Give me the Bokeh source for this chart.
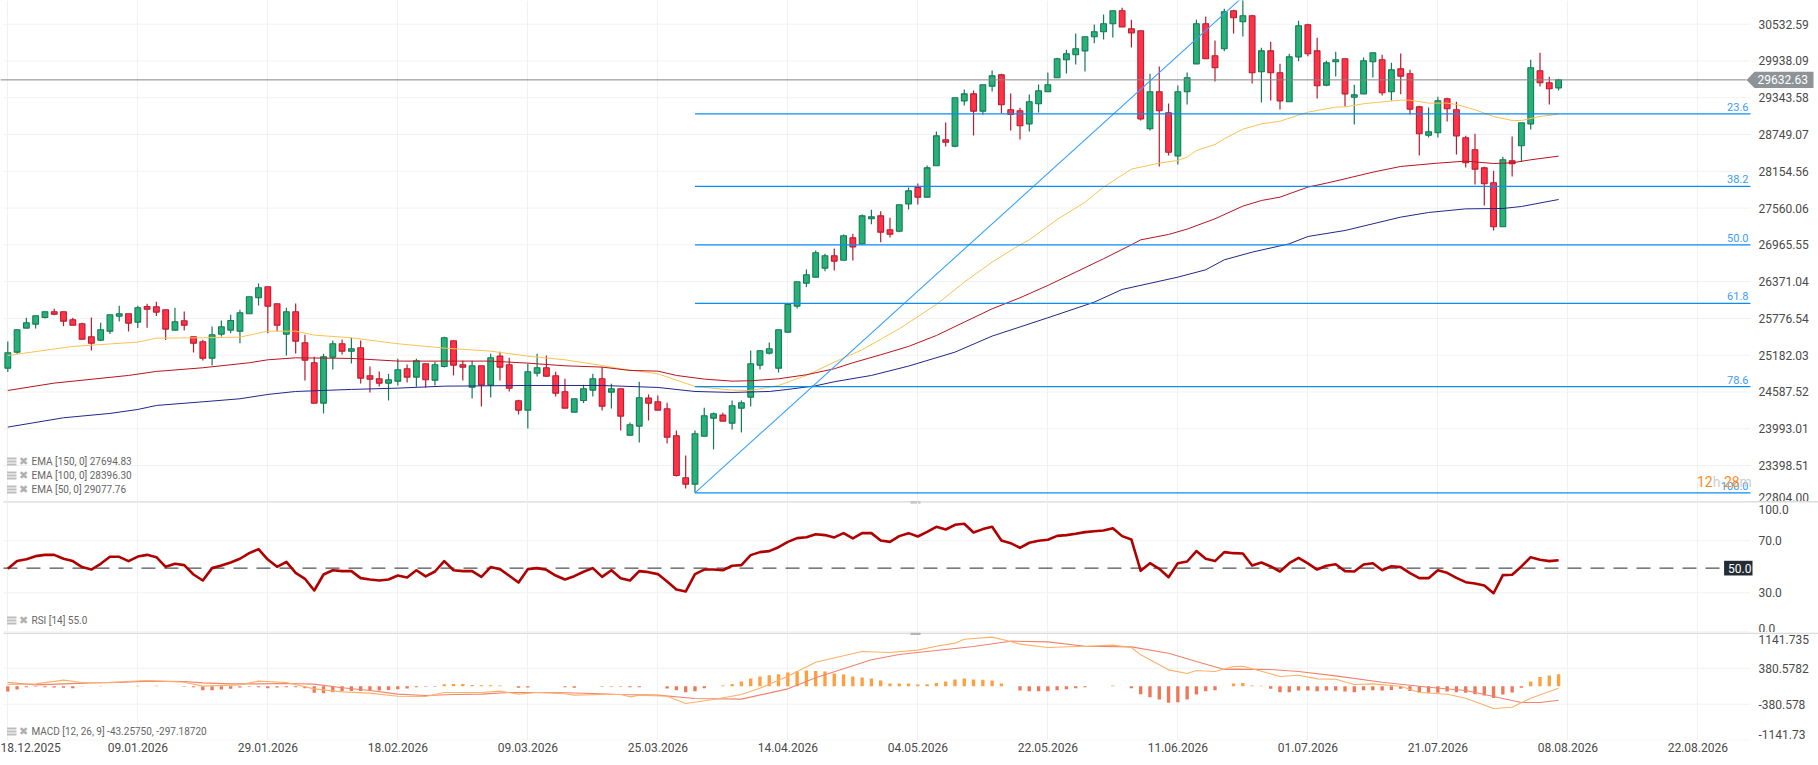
from bokeh.embed import file_html
from bokeh.layouts import column
from bokeh.models import (BoxAnnotation, FixedTicker, Label, LinearAxis, PolyAnnotation, Range1d)
from bokeh.plotting import figure
from bokeh.resources import INLINE
from bokeh.core.properties import value

OPEN = [24973,25232,25620,25685,25792,25884,25884,25755,25690,25480,25426,25571,25814,25852,25717,25970,25965,25916,25588,25739,
25480,25399,25135,25523,25588,25571,25852,26110,26288,26013,25523,25884,25383,25060,24408,25151,25367,25248,25302,24849,
24801,24731,24763,24963,24828,25043,24779,25000,25415,25027,24666,25011,24699,25167,25027,24445,24295,24893,24979,24849,
24591,24262,24451,24618,24801,24585,24639,23890,24036,24489,24429,24316,23880,23201,23098,23874,24165,24214,24084,24327,
24505,25022,25216,24973,25555,25976,26347,26444,26590,26789,26718,27079,26982,27387,27435,27209,27187,27629,27893,27737,
28244,28664,28561,29294,29407,29127,29531,29714,29149,29133,28922,29246,29440,29666,29957,30038,30102,30329,30410,30539,
30749,30458,30426,28842,29440,29100,28405,29440,29892,30539,30022,30135,30749,30571,30668,29763,30102,29747,29278,30005,
30523,30102,29547,29925,29973,29353,29407,29925,29957,29440,29811,29731,29197,28739,28777,29327,29149,28696,28502,28211,
27969,27258,28324,28567,28922,29779,29585,29504]
HIGH = [25404,25593,25787,25819,25884,25932,25884,25787,25706,25792,25706,25835,25981,25852,25981,26013,26046,25916,25949,25889,
25480,25431,25647,25744,25835,25916,26126,26342,26288,26013,25949,26019,25512,25157,25205,25421,25437,25464,25421,25000,
24920,24882,25124,25033,25124,25043,25076,25480,25415,25092,25092,25011,25205,25237,25140,24462,25043,25205,25178,24914,
24801,24478,24704,24882,24990,24720,24639,24095,24752,24548,24532,24413,23966,23562,23966,24332,24257,24251,24451,24451,
25259,25254,25388,25593,26003,26369,26568,26875,26821,26908,27133,27144,27456,27532,27511,27403,27613,27893,27958,28249,
28799,28944,29343,29477,29461,29553,29785,29731,29413,29181,29397,29558,29752,29989,30119,30383,30329,30528,30690,30749,
30797,30604,30426,29731,29849,29251,29542,29752,30604,30657,30269,30781,30765,30974,30684,30151,30248,29892,30054,30587,
30539,30313,29941,30086,29973,29553,29995,30070,30038,29908,30059,29795,29213,29186,29359,29343,29278,28728,28761,28227,
28163,28389,28718,28939,29957,30070,29682,29650]
LOW = [24909,25205,25620,25615,25776,25830,25652,25668,25442,25259,25410,25523,25728,25566,25620,25625,25814,25426,25582,25582,
25227,25097,25016,25485,25539,25377,25852,25986,25539,25571,25178,25210,24774,24408,24241,24952,25194,25049,24726,24580,
24677,24451,24693,24742,24672,24655,24693,24984,24855,24774,24483,24354,24499,24774,24596,24224,23998,24839,24828,24515,
24327,24262,24408,24515,24289,24321,23966,23890,23772,24127,24295,23756,23222,23028,22958,23874,23659,24117,23982,23934,
24354,24952,25194,24903,25555,25938,26283,26444,26541,26552,26718,26713,26982,27301,27010,27085,27171,27538,27619,27737,
28244,28556,28545,29219,28734,29068,29445,29089,28815,28669,28799,29106,29440,29666,29736,29882,29768,30226,30286,30318,
30490,30156,28976,28815,28233,28411,28265,29235,29892,29973,29607,30097,30383,30334,29574,29267,29300,29154,29278,29935,
30016,29332,29531,29688,29203,28912,29407,29671,29380,29300,29402,29073,28411,28702,28702,28960,28427,28217,27942,27602,
27198,27258,28071,28308,28831,29526,29235,29461]
CLOSE = [25221,25593,25706,25819,25884,25846,25733,25668,25442,25377,25593,25835,25852,25701,25949,25927,25879,25604,25722,25668,
25377,25135,25512,25642,25744,25868,26126,26272,25976,25668,25884,25410,25103,24408,25157,25367,25248,25286,24812,24796,
24731,24785,24946,24828,25092,24785,25027,25464,25022,24990,25011,24699,25140,24990,24650,24295,24914,24979,24844,24569,
24327,24478,24639,24801,24359,24639,24198,24057,24494,24408,24295,23858,23238,23098,23912,24203,24235,24117,24365,24413,
25043,25254,25286,25593,26003,26369,26482,26838,26789,26703,27112,26934,27435,27419,27171,27139,27613,27839,27737,28211,
28728,28626,29343,29407,29127,29553,29698,29230,29073,28890,29278,29456,29553,29973,30054,30135,30329,30410,30539,30749,
30490,30393,29003,29440,29133,28464,29440,29666,30539,29973,29828,30733,30636,30668,29747,30102,29747,29294,30005,30507,
30054,29537,29908,29957,29407,29391,29941,30070,29424,29795,29693,29160,28761,28793,29294,29165,28728,28292,28190,27953,
27258,28341,28276,28939,29828,29585,29488,29633]

EMA50_I = [0,7,14,16,21,25,28,31,33,37,42,47,52,56,60,64,66,70,74,78,80,83,86,89,92,96,100,103,106,109,
110,113,116,118,121,124,126,127,128,130,131,133,135,137,140,143,144,146,147,150,151,153,155,156,158,160,162,163,165,167]
EMA50 = [25178,25324,25394,25458,25464,25474,25571,25571,25507,25464,25367,25297,25248,25167,25108,25016,
24963,24882,24677,24618,24612,24693,24855,25070,25270,25609,26003,26364,26687,26967,
27047,27376,27656,27899,28190,28287,28330,28384,28491,28588,28680,28836,28922,28965,29111,29192,29197,
29246,29262,29305,29305,29257,29257,29235,29149,29041,28976,28976,29041,29079]
EMA100_I = [0,5,13,16,21,26,28,31,37,42,47,52,56,60,64,67,70,72,75,78,80,83,86,89,91,94,97,100,103,106,109,112,115,118,121,
122,125,127,130,133,135,137,140,142,144,147,150,154,157,160,162,164,167]
EMA100 = [24612,24731,24855,24920,24979,25060,25108,25140,25130,25087,25087,25087,25054,25011,24990,
24936,24925,24855,24796,24763,24769,24801,24866,24963,25060,25189,25324,25501,25717,25932,26110,26310,26525,26741,26967,
27047,27134,27220,27387,27592,27683,27737,27899,27963,28033,28141,28233,28287,28319,28281,28292,28341,28400]
EMA150_I = [0,6,11,14,16,21,25,28,31,37,42,47,52,56,60,64,70,74,78,82,84,87,89,93,97,102,106,112,117,120,126,129,
131,134,138,140,144,147,150,153,157,161,163,167]
EMA150 = [24020,24171,24241,24305,24370,24429,24478,24548,24596,24629,24650,24682,24688,24693,24693,24693,
24661,24596,24580,24596,24629,24688,24753,24855,25006,25232,25491,25787,26040,26245,26444,26563,
26724,26848,26983,27101,27198,27306,27414,27489,27548,27554,27586,27699]

RSI = [48.5,54.4,55.9,58.2,59.2,59.2,56.2,54.4,49.8,47.9,52.3,57.7,57.7,54.4,57.9,59.2,57.4,50.0,52.3,51.3,
44.1,39.5,49.0,51.0,53.3,56.2,60.5,63.6,55.6,50.0,53.8,45.4,40.8,31.8,44.1,47.4,46.7,46.7,41.3,40.3,
39.5,40.3,43.3,41.8,47.4,42.6,46.4,54.4,47.4,46.7,46.7,42.3,49.8,48.2,43.1,37.9,48.2,49.0,47.7,43.3,
40.3,42.8,46.2,49.0,42.3,47.4,41.3,39.5,46.7,45.9,44.4,38.7,32.6,31.0,44.4,47.9,47.9,47.4,50.8,51.3,
59.0,61.3,62.1,65.1,69.2,72.1,72.8,75.1,74.4,72.6,75.9,71.8,75.9,75.9,70.3,69.2,73.6,75.9,73.3,76.9,
80.8,78.7,82.3,83.1,76.4,79.0,80.8,70.3,68.2,64.6,68.5,70.0,70.8,73.8,74.4,75.4,76.7,77.4,77.9,79.7,
73.6,71.0,46.9,52.8,48.5,42.0,52.8,54.1,62.1,56.2,54.4,61.3,60.5,60.3,51.0,53.3,50.3,46.4,52.8,56.9,
52.6,47.9,50.8,52.0,46.7,46.4,51.8,52.8,47.4,50.5,49.8,45.1,41.3,41.3,47.4,45.4,41.5,38.2,37.2,35.6,
29.7,43.6,43.9,50.3,57.4,55.4,54.4,55.1]
RSI_LEVEL = 49.0

MACD_I = [0,3,6,8,11,15,19,21,25,27,30,33,36,39,42,45,47,51,53,55,57,60,61,64,66,67,68,71,73,76,79,81,84,87,90,92,95,98,100,102,
103,106,108,109,112,116,119,121,122,125,127,128,130,132,133,135,137,139,141,143,145,147,150,152,155,157,160,162,164,167]
MACD = [36,50,128,78,85,121,85,1,29,107,78,-56,-119,-147,-211,-218,-133,-133,-105,-168,-133,-161,-189,-175,-175,-225,-189,-211,-366,-281,
-175,-42,212,508,642,734,713,762,846,910,994,1037,945,889,818,846,868,818,663,346,269,332,311,417,423,317,205,233,155,148,
36,50,0,-134,-169,-253,-472,-444,-253,-42]
SIGNAL_I = [0,3,6,9,12,15,19,21,24,27,30,33,36,39,42,45,48,51,54,57,60,63,66,70,74,79,84,87,90,93,96,100,104,108,112,116,121,125,128,131,
132,136,139,143,148,153,157,160,163,165,167]
SIGNAL = [78,29,50,71,78,107,100,71,50,50,57,43,-34,-91,-168,-197,-175,-168,-133,-133,-140,-154,-175,-189,-260,-274,-56,177,367,558,
670,755,839,952,938,846,832,698,522,353,360,353,310,219,85,-21,-91,-218,-345,-345,-296]
HIST = [-113,-70,-21,-14,-21,-28,-35,-42,-7,0,-7,0,0,0,7,0,7,0,0,-14,-21,-85,-85,-70,-56,-28,-14,-21,-42,-28,-21,-21,-42,-141,-148,-127,-106,-99,-99,-92,
-92,-78,-63,-49,-21,-14,-14,42,49,49,28,21,21,14,0,-35,-28,0,0,0,-21,-35,0,0,-14,-14,-14,-21,-21,0,0,-49,-85,-127,-106,-42,0,14,49,99,
162,204,233,254,289,317,331,324,310,268,247,204,183,162,120,56,56,56,35,42,70,99,141,162,141,134,120,56,0,-92,-106,-106,-106,-85,-63,-42,-21,0,0,14,
0,-42,-169,-233,-282,-352,-338,-282,-176,-106,-85,0,56,70,14,7,-56,-127,-127,-92,-92,-106,-92,-92,-113,-127,-85,-85,-92,-78,-56,-99,-127,-141,-141,-113,
-127,-141,-169,-197,-247,-176,-134,-35,99,197,226,254]

DATE_TICKS = [0,14,28,42,56,70,84,98,112,126,140,154,168,182]
DATE_LABELS = ["18.12.2025","09.01.2026","29.01.2026","18.02.2026","09.03.2026","25.03.2026","14.04.2026",
               "04.05.2026","22.05.2026","11.06.2026","01.07.2026","21.07.2026","08.08.2026","22.08.2026"]
PRICE_TICKS = [30532.59,29938.09,29343.58,28749.07,28154.56,27560.06,26965.55,26371.04,25776.54,25182.03,24587.52,23993.01,23398.51,22804.0]
PRICE_LABELS = ["30532.59","29938.09","29343.58","28749.07","28154.56","27560.06","26965.55","26371.04","25776.54","25182.03","24587.52","23993.01","23398.51",""]
RSI_TICKS = [100,70,30,0]
RSI_LABELS = ["","70.0","30.0",""]
MACD_TICKS = [1141.735,380.5782,-380.578,-1141.73]
MACD_LABELS = ["","380.5782","-380.578",""]
FIB_NAMES = ["23.6","38.2","50.0","61.8","78.6","100.0"]
FIB_LEVELS = [29082,27912,26966,26020,24673,22958]
SWING_I = [74,133]
SWING_P = [22958,30974]
LAST_PRICE = 29632.63

FONT = "Roboto"
X_RANGE = (-0.786, 194.99)
PLOT_LEFT = -0.463
PLOT_RIGHT = 187.66
GRID = "#f1f1f1"
SEP = "#dcdcdc"
TICK = "#4a4a4a"
LEG = "#666666"
UP_F, UP_L = "#27b077", "#137a55"
DN_F, DN_L = "#ff3347", "#b81c30"
FIB = "#0a8cf5"
LEVEL = "annotation"


def panel(h, yr, yticks, ylabels, bottom=0, transparent=False):
    p = figure(width=1818, height=h, x_range=Range1d(*X_RANGE), y_range=Range1d(*yr),
               output_backend="svg", toolbar_location=None, y_axis_location=None,
               x_axis_location="below" if bottom else None,
               min_border_left=0, min_border_right=0, min_border_top=0, min_border_bottom=bottom)
    p.outline_line_color = None
    if transparent:
        p.border_fill_color = None
        p.background_fill_color = None
    p.xgrid.ticker = FixedTicker(ticks=DATE_TICKS)
    p.xgrid.grid_line_color = GRID
    p.ygrid.grid_line_color = None
    ya = LinearAxis(fixed_location=PLOT_RIGHT, ticker=FixedTicker(ticks=yticks))
    ya.major_label_overrides = dict(zip(yticks, ylabels))
    ya.axis_line_color = None
    ya.major_tick_line_color = None
    ya.minor_tick_line_color = None
    ya.major_tick_out = 0
    ya.major_tick_in = 0
    ya.major_label_standoff = 8
    ya.major_label_text_font = FONT
    ya.major_label_text_font_size = "12px"
    ya.major_label_text_color = TICK
    p.add_layout(ya, "right")
    p.segment([PLOT_LEFT] * len(yticks), yticks, [PLOT_RIGHT] * len(yticks), yticks, line_color=GRID, line_width=1)
    return p


def box(p, l, r, t, b, color):
    p.add_layout(BoxAnnotation(left=l, right=r, top=t, bottom=b, left_units="canvas", right_units="canvas",
                               top_units="canvas", bottom_units="canvas", fill_color=color, fill_alpha=1,
                               line_color=None, level=LEVEL))


def canvas_label(p, x, y, text, color=LEG, size="10px", font=FONT, weight="normal", y_units="canvas"):
    p.add_layout(Label(x=x, y=y, x_units="canvas", y_units=y_units, text=text, text_color=color,
                       text_font_size=size, text_font=font,
                       text_font_style=weight, text_baseline="middle", level=LEVEL))


def legend_row(p, y, text):
    for k in (-4, -1, 2):
        box(p, 6.5, 16, y + k, y + k + 2, "#bdbdbd")
    canvas_label(p, 18.5, y, "\u2716", color="#b0b0b0", size="11px", font="DejaVu Sans")
    canvas_label(p, 31, y, text)


# ---------- price panel
px_per_unit = 36.78 / 594.51
main = panel(513, (30532.59 - (513 - 23.7) / px_per_unit, 30532.59 + 23.7 / px_per_unit), PRICE_TICKS, PRICE_LABELS)
idx = list(range(len(OPEN)))
up = [i for i in idx if CLOSE[i] >= OPEN[i]]
dn = [i for i in idx if CLOSE[i] < OPEN[i]]
for sel, fill, line in ((up, UP_F, UP_L), (dn, DN_F, DN_L)):
    main.segment([i for i in sel], [HIGH[i] for i in sel], [i for i in sel], [LOW[i] for i in sel],
                 line_color=line, line_width=1.2)
    main.vbar([i for i in sel], 0.62, [max(OPEN[i], CLOSE[i]) for i in sel], [min(OPEN[i], CLOSE[i]) for i in sel],
              fill_color=fill, line_color=line, line_width=1.1)
main.line(EMA50_I, EMA50, line_color="#fbc252", line_width=1)
main.line(EMA100_I, EMA100, line_color="#b8141e", line_width=1)
main.line(EMA150_I, EMA150, line_color="#20288a", line_width=1)
main.line(SWING_I, SWING_P, line_color="#3ba2ff", line_width=1.1)
main.segment([X_RANGE[0]], [LAST_PRICE], [187.24], [LAST_PRICE], line_color="#7f868a", line_width=1)
main.segment([SWING_I[0]] * 6, FIB_LEVELS, [PLOT_RIGHT] * 6, FIB_LEVELS, line_color=FIB, line_width=1.2)
main.text([187.45] * 6, FIB_LEVELS, text=FIB_NAMES, text_align="right", text_baseline="bottom", y_offset=-3,
          text_color="#3a9dfb", text_font=value(FONT), text_font_size="11px")
main.add_layout(PolyAnnotation(xs=[1746, 1754, 1813, 1813, 1754],
                               ys=[LAST_PRICE, LAST_PRICE + 130, LAST_PRICE + 130, LAST_PRICE - 130, LAST_PRICE - 130],
                               xs_units="canvas", ys_units="data", fill_color="#8d9397", fill_alpha=1,
                               line_color=None, level=LEVEL))
canvas_label(main, 1757, LAST_PRICE, "29632.63", color="#ffffff", size="12px", y_units="data")
canvas_label(main, 1758, 496.7, "22804.00", color=TICK, size="12px")
for x, t, c in ((1696.5, "12", "#ff8c1a"), (1712.2, "h", "#cfcfcf"), (1723.4, "28", "#ff8c1a"), (1739.1, "m", "#cfcfcf")):
    canvas_label(main, x, 481, t, color=c, size="14px")
legend_row(main, 461, "EMA [150, 0] 27694.83")
legend_row(main, 475, "EMA [100, 0] 28396.30")
legend_row(main, 489, "EMA [50, 0] 29077.76")
box(main, 3, 1818, 500.5, 502, SEP)
box(main, 910, 920, 500.5, 503, "#b4b4b4")

# ---------- RSI panel
rsi = panel(131, (-0.5, 100.23), RSI_TICKS, RSI_LABELS, transparent=True)
rsi.margin = (-12, 0, 0, 0)
rsi.segment([PLOT_LEFT], [RSI_LEVEL], [184.83], [RSI_LEVEL], line_color="#20282e", line_width=1, line_dash="14 9")
rsi.line(idx, RSI, line_color="#b00000", line_width=2.6, line_join="round")
rsi.add_layout(BoxAnnotation(left=1723.6, right=1752, top=RSI_LEVEL + 5.65, bottom=RSI_LEVEL - 5.65,
                             left_units="canvas", right_units="canvas", top_units="data", bottom_units="data",
                             fill_color="#232b33", fill_alpha=1, line_color=None, level=LEVEL))
canvas_label(rsi, 1727.5, RSI_LEVEL, "50.0", color="#ffffff", size="12px", y_units="data")
canvas_label(rsi, 1758, 7.7, "100.0", color=TICK, size="12px")
canvas_label(rsi, 1758, 126.7, "0.0", color=TICK, size="12px")
legend_row(rsi, 119, "RSI [14] 55.0")

# ---------- MACD panel
u = 761.1564 / 36
macd = panel(128, (-108 * u + 53.7 * u, 53.7 * u), MACD_TICKS, MACD_LABELS, bottom=20)
xa = macd.xaxis[0]
xa.ticker = FixedTicker(ticks=DATE_TICKS)
xa.major_label_overrides = dict(zip(DATE_TICKS, DATE_LABELS))
xa.axis_line_color = None
xa.major_tick_line_color = None
xa.minor_tick_line_color = None
xa.major_tick_out = 0
xa.major_tick_in = 0
xa.major_label_standoff = 2
xa.major_label_text_align = "left"
xa.major_label_text_font = FONT
xa.major_label_text_font_size = "12px"
xa.major_label_text_color = TICK
hp = [i for i in idx if HIST[i] > 0]
hn = [i for i in idx if HIST[i] < 0]
macd.vbar(hp, 0.36, [HIST[i] for i in hp], [0] * len(hp), fill_color="#ffa040", line_color=None)
macd.vbar(hn, 0.36, [0] * len(hn), [HIST[i] for i in hn], fill_color="#ee7757", line_color=None)
macd.line(SIGNAL_I, SIGNAL, line_color="#f0836c", line_width=1.1)
macd.line(MACD_I, MACD, line_color="#ffb067", line_width=1.1)
box(macd, 3, 1818, 0, 1.5, SEP)
box(macd, 910, 920, 0, 2.5, "#b4b4b4")
canvas_label(macd, 1758, 7, "1141.735", color=TICK, size="12px")
canvas_label(macd, 1758, 102, "-1141.73", color=TICK, size="12px")
legend_row(macd, 99, "MACD [12, 26, 9] -43.25750, -297.18720")

page = column(main, rsi, macd, spacing=0)
open("out.html", "w").write(file_html(page, INLINE))
